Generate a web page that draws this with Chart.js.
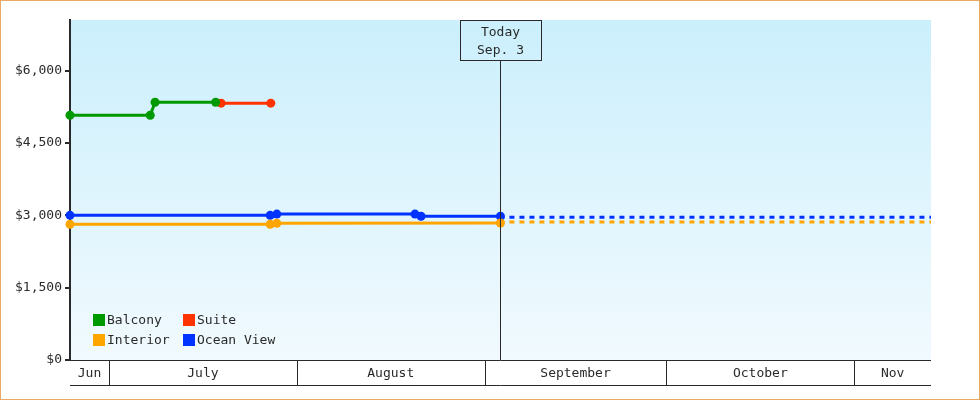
<!DOCTYPE html>
<html>
<head>
<meta charset="utf-8">
<script src="https://cdn.jsdelivr.net/npm/chart.js@4.4.0/dist/chart.umd.min.js"></script>
<style>
  html, body { margin: 0; padding: 0; background: #fff; }
  #wrap { width: 978px; height: 398px; border: 1px solid #e9a963; position: relative; }
</style>
</head>
<body>
<div id="wrap"><canvas id="chart"></canvas></div>
<script>
// x values are days counted from July 1
const xMin = -6.44;
const xMax = 135.67;
const today = 64.6;
const todayLabel = ["Today", "Sep. 3"];

const monthStarts = [0, 31, 62, 92, 123];
const monthLabels = ["Jun", "July", "August", "September", "October", "Nov"];

const yTicks = [0, 1500, 3000, 4500, 6000];
const yMax = 7050;

const balconyDays = [-6.44, 6.8, 7.6, 17.6];
const balconyPrices = [5075, 5075, 5345, 5345];
const suiteDays = [18.5, 26.7];
const suitePrices = [5325, 5325];
const interiorDays = [-6.44, 26.6, 27.7, 64.6];
const interiorPrices = [2815, 2815, 2835, 2840];
const oceanDays = [-6.44, 26.6, 27.7, 50.5, 51.5, 64.6];
const oceanPrices = [3000, 3000, 3025, 3025, 2980, 2980];

// projection after today (dashed)
const forecastDays = [64.6, 100.5, 135.67];
const interiorForecast = [2840, 2860, 2860];
const oceanForecast = [2980, 2960, 2960];

const FONT = '13px "DejaVu Sans Mono", monospace';
const INK = "#2a2a2a";

const series = [
  { label: "Balcony", color: "#009900", days: balconyDays, prices: balconyPrices },
  { label: "Suite", color: "#ff3300", days: suiteDays, prices: suitePrices },
  { label: "Interior", color: "#ffa500", days: interiorDays, prices: interiorPrices },
  { label: "Ocean View", color: "#0033ff", days: oceanDays, prices: oceanPrices },
];

function points(days, values) {
  return days.map((d, i) => ({ x: d, y: values[i] }));
}

const datasets = series.map((s) => ({
  label: s.label,
  data: points(s.days, s.prices),
  borderColor: s.color,
  backgroundColor: s.color,
  borderWidth: 3,
  pointRadius: 4.5,
  pointBorderWidth: 0,
  pointHoverRadius: 4.5,
  tension: 0,
  clip: false,
}));

[
  { color: "#ffa500", values: interiorForecast },
  { color: "#0033ff", values: oceanForecast },
].forEach((f) => {
  datasets.push({
    label: "",
    data: points(forecastDays, f.values),
    borderColor: f.color,
    borderWidth: 3,
    borderDash: [5, 5],
    pointRadius: 0,
    stepped: "after",
    clip: false,
  });
});

const extras = {
  id: "extras",
  beforeDraw(chart) {
    const { ctx, chartArea: a } = chart;
    const g = ctx.createLinearGradient(0, a.top, 0, a.bottom);
    g.addColorStop(0, "#cbeffc");
    g.addColorStop(1, "#f1fafe");
    ctx.save();
    ctx.fillStyle = g;
    ctx.fillRect(a.left, a.top, a.right - a.left, a.bottom - a.top);
    ctx.restore();
  },
  afterDraw(chart) {
    const { ctx, chartArea: a } = chart;
    const xs = chart.scales.x;
    ctx.save();
    ctx.font = FONT;
    ctx.fillStyle = INK;
    ctx.strokeStyle = INK;
    ctx.lineWidth = 1;

    // today marker
    const tx = Math.round(xs.getPixelForValue(today)) + 0.5;
    ctx.beginPath();
    ctx.moveTo(tx, a.top + 41);
    ctx.lineTo(tx, a.bottom);
    ctx.stroke();
    ctx.strokeRect(tx - 40, a.top + 0.5, 81, 40);
    ctx.textAlign = "center";
    ctx.textBaseline = "middle";
    todayLabel.forEach((t, i) => ctx.fillText(t, tx, a.top + 13 + i * 18));

    // month band under the plot
    const bandTop = a.bottom + 0.5;
    const bandBottom = a.bottom + 25.5;
    ctx.beginPath();
    ctx.moveTo(a.left, bandTop);
    ctx.lineTo(a.right, bandTop);
    ctx.moveTo(a.left, bandBottom);
    ctx.lineTo(a.right, bandBottom);
    monthStarts.forEach((d) => {
      const x = Math.round(xs.getPixelForValue(d)) + 0.5;
      ctx.moveTo(x, bandTop);
      ctx.lineTo(x, bandBottom);
    });
    ctx.stroke();
    const edges = [xMin, ...monthStarts, xMax];
    monthLabels.forEach((m, i) => {
      const x0 = xs.getPixelForValue(edges[i]);
      const x1 = xs.getPixelForValue(edges[i + 1]);
      ctx.fillText(m, (x0 + x1) / 2, a.bottom + 14);
    });

    // legend inside plot, two columns
    ctx.textAlign = "left";
    series.forEach((s, i) => {
      const lx = a.left + 23 + (i % 2) * 90;
      const ly = a.bottom - 40 + Math.floor(i / 2) * 20;
      ctx.fillStyle = s.color;
      ctx.fillRect(lx, ly - 6, 12, 12);
      ctx.fillStyle = INK;
      ctx.fillText(s.label, lx + 14, ly + 1);
    });
    ctx.restore();
  },
};

new Chart(document.getElementById("chart"), {
  type: "line",
  data: { datasets },
  options: {
    responsive: true,
    maintainAspectRatio: false,
    animation: false,
    layout: { padding: { top: 19, right: 48, bottom: 39, left: 0 } },
    plugins: { legend: { display: false }, tooltip: { enabled: false } },
    scales: {
      x: { type: "linear", min: xMin, max: xMax, display: false },
      y: {
        min: 0,
        max: yMax,
        afterBuildTicks: (s) => {
          s.ticks = yTicks.map((v) => ({ value: v }));
        },
        afterFit: (s) => {
          s.width = 69;
        },
        ticks: {
          callback: (v) => "$" + v.toLocaleString("en-US"),
          font: { family: '"DejaVu Sans Mono", monospace', size: 13 },
          color: INK,
          padding: 3,
        },
        grid: {
          drawOnChartArea: false,
          drawTicks: true,
          tickLength: 5,
          color: INK,
          lineWidth: 2,
        },
        border: { display: true, color: INK, width: 2 },
      },
    },
  },
  plugins: [extras],
});
</script>
</body>
</html>
